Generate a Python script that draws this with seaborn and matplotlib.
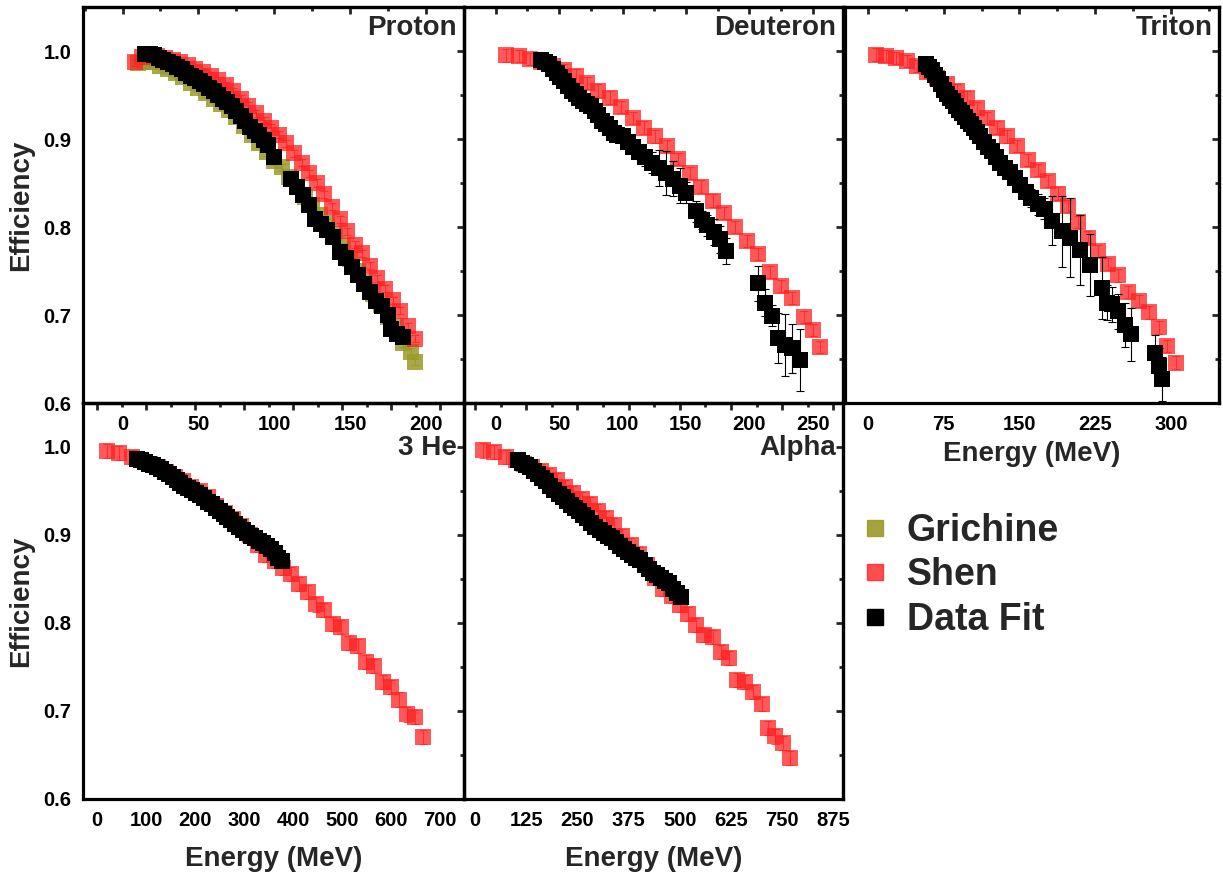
import matplotlib
matplotlib.use("Agg")
import matplotlib.pyplot as plt
import seaborn as sns
from matplotlib.ticker import MultipleLocator, FormatStrFormatter
from matplotlib.lines import Line2D

# ---- data ----
# Proton
p_grich_x = [10, 15, 20, 25, 30, 35, 40, 45, 50, 55, 60, 65, 70, 75, 80, 85, 90, 95, 100,
             105, 110, 115, 120, 125, 130, 135, 140, 145, 150, 155, 160, 165, 170, 175,
             180, 185, 190, 193]
p_grich_y = [0.986, 0.988, 0.987, 0.983, 0.979, 0.975, 0.970, 0.964, 0.958, 0.952, 0.946,
             0.940, 0.933, 0.925, 0.915, 0.905, 0.895, 0.885, 0.875, 0.868, 0.857, 0.845,
             0.834, 0.825, 0.814, 0.805, 0.792, 0.778, 0.764, 0.750, 0.737, 0.724, 0.711,
             0.698, 0.688, 0.668, 0.658, 0.647]
p_shen_x = [8, 13, 18, 23, 28, 33, 38, 43, 48, 53, 58, 63, 68, 73, 78, 83, 88, 93, 98, 103,
            108, 113, 118, 123, 128, 133, 138, 143, 148, 153, 158, 163, 168, 173, 178, 183,
            188, 193]
p_shen_y = [0.987, 0.993, 0.995, 0.994, 0.992, 0.990, 0.987, 0.984, 0.980, 0.976, 0.972,
            0.967, 0.961, 0.954, 0.946, 0.938, 0.929, 0.921, 0.913, 0.905, 0.895, 0.884,
            0.873, 0.861, 0.850, 0.837, 0.823, 0.809, 0.795, 0.780, 0.770, 0.756, 0.742,
            0.730, 0.717, 0.705, 0.687, 0.673]
p_fit_x = [15, 18, 21, 24, 27, 30, 33, 36, 39, 42, 45, 48, 51, 54, 57, 60, 63, 66, 69, 72,
           75, 78, 81, 84, 87, 90, 93, 96, 100, 111, 115, 119, 123, 127, 131, 135, 139, 143,
           147, 151, 155, 159, 163, 167, 171, 175, 177, 181, 185]
p_fit_y = [0.997, 0.997, 0.995, 0.992, 0.990, 0.988, 0.985, 0.982, 0.979, 0.975, 0.972,
           0.969, 0.966, 0.962, 0.958, 0.954, 0.950, 0.946, 0.942, 0.937, 0.932, 0.926,
           0.920, 0.914, 0.909, 0.904, 0.899, 0.893, 0.879, 0.855, 0.846, 0.836, 0.825,
           0.809, 0.803, 0.797, 0.789, 0.772, 0.765, 0.755, 0.745, 0.735, 0.726, 0.716,
           0.710, 0.700, 0.684, 0.679, 0.675]

# Deuteron
d_shen_x = [8, 18, 27, 36, 45, 54, 63, 72, 81, 90, 99, 108, 117, 126, 135, 144, 153, 162,
            171, 180, 189, 198, 207, 216, 225, 234, 243, 250, 256]
d_shen_y = [0.995, 0.994, 0.991, 0.987, 0.983, 0.978, 0.972, 0.964, 0.955, 0.947, 0.936,
            0.924, 0.913, 0.903, 0.892, 0.877, 0.861, 0.846, 0.830, 0.816, 0.800, 0.784,
            0.769, 0.749, 0.733, 0.719, 0.698, 0.683, 0.664]
d_fit_x = [36, 39, 42, 45, 48, 51, 54, 57, 60, 63, 66, 69, 72, 75, 78, 81, 84, 87, 90, 93,
           96, 100, 104, 108, 113, 118, 123, 129, 134, 140, 145, 150, 158, 163, 167, 172,
           177, 182, 207, 212, 218, 223, 228, 234, 240]
d_fit_y = [0.990, 0.988, 0.985, 0.980, 0.975, 0.971, 0.966, 0.960, 0.955, 0.951, 0.947,
           0.943, 0.940, 0.937, 0.932, 0.927, 0.921, 0.917, 0.912, 0.907, 0.904, 0.903,
           0.897, 0.891, 0.885, 0.879, 0.873, 0.867, 0.861, 0.855, 0.847, 0.839, 0.818,
           0.808, 0.802, 0.794, 0.786, 0.773, 0.736, 0.714, 0.699, 0.674, 0.666, 0.662,
           0.649]
d_fit_err = [0.003, 0.003, 0.003, 0.003, 0.003, 0.003, 0.003, 0.003, 0.003, 0.003, 0.003,
             0.003, 0.003, 0.003, 0.003, 0.003, 0.003, 0.003, 0.003, 0.003, 0.003, 0.003,
             0.005, 0.006, 0.008, 0.010, 0.012, 0.020, 0.025, 0.020, 0.020, 0.012, 0.012,
             0.010, 0.012, 0.015, 0.015, 0.015, 0.020, 0.015, 0.012, 0.028, 0.035, 0.028,
             0.035]

# Triton
t_shen_x = [8, 18, 28, 38, 48, 58, 68, 78, 88, 98, 108, 118, 128, 138, 148, 158, 168, 178,
            188, 198, 208, 218, 228, 238, 248, 258, 268, 278, 288, 296, 305]
t_shen_y = [0.996, 0.994, 0.992, 0.989, 0.983, 0.976, 0.969, 0.962, 0.955, 0.947, 0.935,
            0.924, 0.913, 0.903, 0.892, 0.876, 0.865, 0.852, 0.838, 0.824, 0.806, 0.788,
            0.773, 0.758, 0.745, 0.726, 0.716, 0.703, 0.686, 0.665, 0.646]
t_fit_x = [57, 60, 63, 66, 69, 72, 75, 78, 81, 84, 87, 90, 93, 96, 99, 102, 105, 108, 111,
           115, 119, 123, 127, 131, 136, 141, 146, 151, 156, 161, 168, 174, 182, 192, 200,
           210, 220, 232, 237, 242, 248, 255, 261, 284, 288, 291]
t_fit_y = [0.985, 0.982, 0.978, 0.973, 0.968, 0.962, 0.956, 0.951, 0.947, 0.943, 0.938,
           0.933, 0.929, 0.925, 0.921, 0.917, 0.913, 0.908, 0.903, 0.897, 0.891, 0.886,
           0.880, 0.873, 0.867, 0.862, 0.856, 0.848, 0.840, 0.833, 0.826, 0.821, 0.807,
           0.795, 0.788, 0.774, 0.757, 0.731, 0.714, 0.712, 0.704, 0.689, 0.678, 0.657,
           0.642, 0.627]
t_fit_err = [0.003, 0.003, 0.003, 0.003, 0.003, 0.003, 0.003, 0.003, 0.003, 0.003, 0.003,
             0.003, 0.003, 0.004, 0.004, 0.004, 0.004, 0.004, 0.004, 0.005, 0.005, 0.005,
             0.005, 0.005, 0.005, 0.005, 0.005, 0.005, 0.008, 0.010, 0.012, 0.012, 0.028,
             0.040, 0.045, 0.040, 0.035, 0.035, 0.020, 0.020, 0.020, 0.025, 0.030, 0.020,
             0.020, 0.025]

# 3He
h_shen_x = [20, 45, 70, 90, 107, 124, 141, 158, 175, 192, 209, 226, 243, 260, 277, 294, 311,
            328, 345, 362, 379, 396, 413, 430, 447, 464, 481, 498, 515, 532, 549, 566, 583,
            600, 617, 632, 649, 666]
h_shen_y = [0.995, 0.993, 0.989, 0.985, 0.981, 0.977, 0.972, 0.966, 0.961, 0.955, 0.950,
            0.943, 0.933, 0.925, 0.918, 0.910, 0.900, 0.889, 0.877, 0.870, 0.862, 0.856,
            0.844, 0.835, 0.821, 0.815, 0.799, 0.795, 0.777, 0.774, 0.756, 0.751, 0.733,
            0.727, 0.713, 0.696, 0.693, 0.670]
h_fit_x = [82, 90, 98, 106, 114, 122, 130, 138, 146, 154, 162, 170, 178, 186, 194, 202, 210,
           218, 226, 234, 242, 250, 258, 266, 274, 282, 290, 298, 306, 314, 322, 330, 338,
           346, 354, 362, 370, 378]
h_fit_y = [0.986, 0.985, 0.983, 0.981, 0.979, 0.977, 0.975, 0.972, 0.969, 0.966, 0.962,
           0.959, 0.956, 0.953, 0.951, 0.948, 0.945, 0.942, 0.938, 0.935, 0.931, 0.927,
           0.924, 0.920, 0.917, 0.913, 0.909, 0.906, 0.902, 0.899, 0.896, 0.893, 0.891,
           0.888, 0.884, 0.879, 0.874, 0.870]

# Alpha
a_shen_x = [19, 47, 76, 100, 120, 140, 160, 180, 200, 220, 240, 260, 280, 300, 320, 340,
            360, 380, 400, 420, 440, 460, 480, 500, 520, 540, 560, 580, 600, 620, 640, 660,
            680, 700, 716, 732, 753, 769]
a_shen_y = [0.996, 0.994, 0.989, 0.985, 0.981, 0.977, 0.973, 0.968, 0.962, 0.955, 0.948,
            0.941, 0.935, 0.927, 0.919, 0.911, 0.899, 0.889, 0.878, 0.866, 0.851, 0.839,
            0.831, 0.820, 0.810, 0.798, 0.786, 0.784, 0.767, 0.760, 0.735, 0.733, 0.722,
            0.708, 0.681, 0.671, 0.664, 0.647]
a_fit_x = [104, 114, 124, 134, 144, 154, 164, 174, 184, 194, 204, 214, 224, 234, 244, 254,
           264, 274, 284, 294, 304, 314, 324, 334, 344, 354, 364, 374, 384, 394, 404, 414,
           424, 434, 444, 454, 464, 474, 484, 494, 504]
a_fit_y = [0.985, 0.982, 0.979, 0.977, 0.973, 0.969, 0.965, 0.961, 0.956, 0.951, 0.947,
           0.943, 0.939, 0.934, 0.931, 0.927, 0.923, 0.919, 0.914, 0.909, 0.906, 0.902,
           0.899, 0.896, 0.892, 0.888, 0.884, 0.881, 0.877, 0.874, 0.871, 0.866, 0.861,
           0.857, 0.854, 0.851, 0.848, 0.845, 0.839, 0.834, 0.829]

GRICH = "#9a9a2a"
SHEN = "#ff2020"
FIT = "#000000"

sns.set_style("white")
plt.rcParams['font.family'] = ['Liberation Sans', 'DejaVu Sans']
plt.rcParams['font.weight'] = 'bold'

fig = plt.figure(figsize=(12.23, 8.75), dpi=100)

W1, W2, W3 = 0.3115, 0.310, 0.306
L1, L2, L3 = 0.0679, 0.3794, 0.6909
BT, BB, H = 0.5394, 0.0869, 0.4526

ax_p = fig.add_axes([L1, BT, W1, H])
ax_d = fig.add_axes([L2, BT, W2, H])
ax_t = fig.add_axes([L3, BT, W3, H])
ax_h = fig.add_axes([L1, BB, W1, H])
ax_a = fig.add_axes([L2, BB, W2, H])
for ax in (ax_p, ax_d, ax_t, ax_h, ax_a):
    ax.patch.set_alpha(0)


def draw(ax, x, y, err, color, alpha, z):
    ax.errorbar(x, y, yerr=err, fmt='none', ecolor=color, elinewidth=0.8,
                capsize=3, capthick=0.8, alpha=alpha, zorder=z)
    sns.scatterplot(x=x, y=y, ax=ax, marker='s', s=128, color=color, alpha=alpha,
                    linewidth=0, legend=False, zorder=z + 1)


def style(ax, xlim, step, name, name_y, yticks=False):
    ax.set_xlim(*xlim)
    ax.set_ylim(0.6, 1.05)
    ax.set_xlabel("")
    ax.set_ylabel("")
    ax.xaxis.set_major_locator(MultipleLocator(step))
    ax.xaxis.set_minor_locator(MultipleLocator(step / 2))
    ax.yaxis.set_major_locator(MultipleLocator(0.1))
    ax.yaxis.set_minor_locator(MultipleLocator(0.05))
    ax.yaxis.set_major_formatter(FormatStrFormatter('%.1f'))
    ax.tick_params(which='both', direction='out', width=2, labelsize=14.5,
                   colors='black', labelleft=yticks)
    ax.tick_params(which='major', length=5)
    ax.tick_params(which='minor', length=3)
    for sp in ax.spines.values():
        sp.set_linewidth(2.3)
        sp.set_color('black')
    # mirrored ticks pointing inward on top / right
    top = ax.secondary_xaxis('top')
    top.xaxis.set_major_locator(MultipleLocator(step))
    top.xaxis.set_minor_locator(MultipleLocator(step / 2))
    top.tick_params(which='both', direction='in', width=2, labeltop=False)
    top.tick_params(which='major', length=5)
    top.tick_params(which='minor', length=3)
    right = ax.secondary_yaxis('right')
    right.yaxis.set_major_locator(MultipleLocator(0.1))
    right.yaxis.set_minor_locator(MultipleLocator(0.05))
    right.tick_params(which='both', direction='in', width=2, labelright=False)
    right.tick_params(which='major', length=5)
    right.tick_params(which='minor', length=3)
    for s in (top, right):
        for sp in s.spines.values():
            sp.set_linewidth(2.3)
    ax.text(0.982, name_y, name, transform=ax.transAxes, ha='right', va='center',
            fontsize=20, fontweight='bold')


# Proton
draw(ax_p, p_grich_x, p_grich_y, 0.004, GRICH, 0.85, 2)
draw(ax_p, p_shen_x, p_shen_y, 0.004, SHEN, 0.75, 4)
draw(ax_p, p_fit_x, p_fit_y, 0.003, FIT, 1.0, 6)
style(ax_p, (-26, 225), 50, "Proton", 0.947, yticks=True)
ax_p.set_ylabel("Efficiency", fontsize=20, fontweight='bold')
ax_p.yaxis.set_label_coords(-0.128, 0.5)

# Deuteron
draw(ax_d, d_shen_x, d_shen_y, 0.007, SHEN, 0.75, 4)
draw(ax_d, d_fit_x, d_fit_y, d_fit_err, FIT, 1.0, 6)
style(ax_d, (-25, 274), 50, "Deuteron", 0.947)

# Triton
draw(ax_t, t_shen_x, t_shen_y, 0.007, SHEN, 0.75, 4)
draw(ax_t, t_fit_x, t_fit_y, t_fit_err, FIT, 1.0, 6)
style(ax_t, (-23, 348), 75, "Triton", 0.947)
ax_t.set_xlabel("Energy (MeV)", fontsize=20, fontweight='bold')
ax_t.xaxis.set_label_coords(0.5, -0.095)

# 3He
draw(ax_h, h_shen_x, h_shen_y, 0.008, SHEN, 0.75, 4)
draw(ax_h, h_fit_x, h_fit_y, 0.003, FIT, 1.0, 6)
style(ax_h, (-29, 749), 100, "3 He", 0.886, yticks=True)
ax_h.set_ylabel("Efficiency", fontsize=20, fontweight='bold')
ax_h.yaxis.set_label_coords(-0.128, 0.5)
ax_h.set_xlabel("Energy (MeV)", fontsize=20, fontweight='bold')
ax_h.xaxis.set_label_coords(0.5, -0.118)

# Alpha
draw(ax_a, a_shen_x, a_shen_y, 0.008, SHEN, 0.75, 4)
draw(ax_a, a_fit_x, a_fit_y, 0.004, FIT, 1.0, 6)
style(ax_a, (-27, 899), 125, "Alpha", 0.886)
ax_a.set_xlabel("Energy (MeV)", fontsize=20, fontweight='bold')
ax_a.xaxis.set_label_coords(0.5, -0.118)

handles = [Line2D([], [], marker='s', ls='none', markersize=11, color=GRICH, alpha=0.9),
           Line2D([], [], marker='s', ls='none', markersize=11, color=SHEN, alpha=0.8),
           Line2D([], [], marker='s', ls='none', markersize=11, color=FIT)]
fig.legend(handles, ["Grichine", "Shen", "Data Fit"], loc='upper left',
           bbox_to_anchor=(0.703, 0.414), frameon=False,
           handlelength=0.8, handletextpad=0.45, labelspacing=0.23,
           borderpad=0, borderaxespad=0, prop={'weight': 'bold', 'size': 27})

fig.savefig("out.png", dpi=100)
